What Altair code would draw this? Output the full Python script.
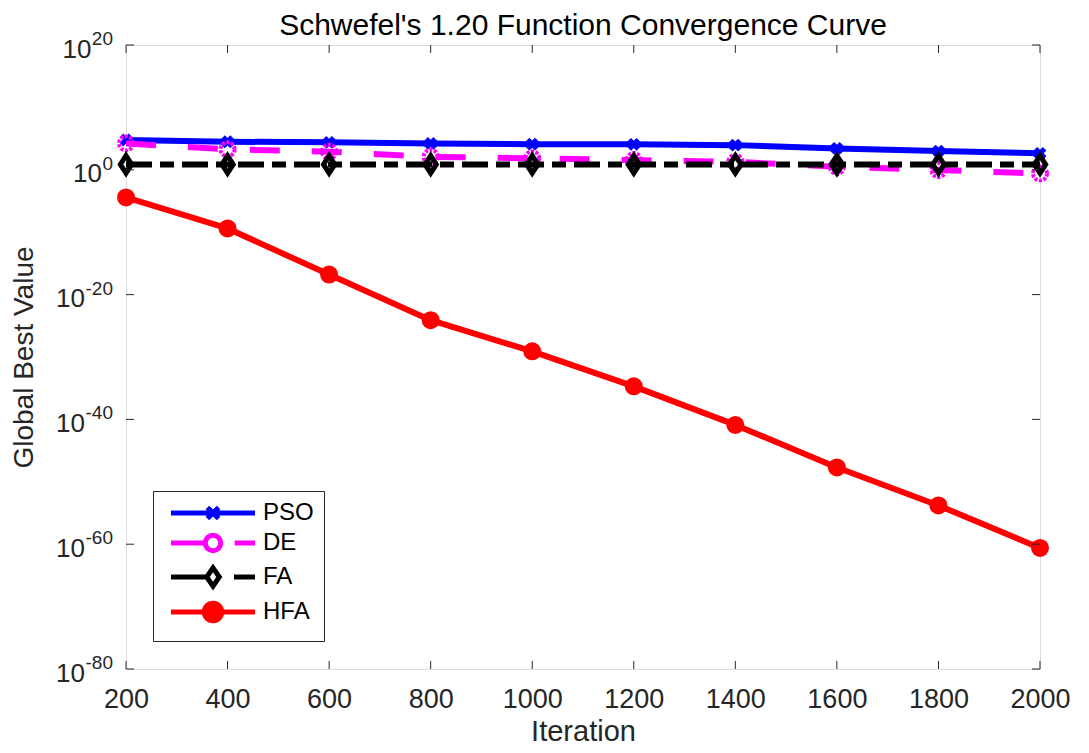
import altair as alt
import pandas as pd

# ---------------- data ----------------
iterations = [200, 400, 600, 800, 1000, 1200, 1400, 1600, 1800, 2000]
pso = [5.8e4, 3.2e4, 2.5e4, 1.7e4, 1.3e4, 1.2e4, 9.0e3, 2.7e3, 1.0e3, 4.3e2]
de = [1.7e4, 1.9e3, 8.0e2, 1.2e2, 68.0, 36.0, 19.0, 3.0, 0.9, 0.26]
fa = [7.4, 7.4, 7.4, 7.4, 7.4, 7.4, 7.4, 7.4, 7.4, 7.4]
hfa = [3.7e-5, 4e-10, 1.6e-17, 8e-25, 8e-30, 2e-35, 1.3e-41, 2e-48, 1.6e-54, 2.5e-61]

names = ["PSO", "DE", "FA", "HFA"]
series = [pso, de, fa, hfa]
colors = ["#0000FF", "#FF00FF", "#000000", "#FF0000"]

x_ticks = [200, 400, 600, 800, 1000, 1200, 1400, 1600, 1800, 2000]
y_ticks = [1e20, 1e0, 1e-20, 1e-40, 1e-60, 1e-80]
y_exp_labels = ["20", "0", "-20", "-40", "-60", "-80"]

# ---------------- styling ----------------
W, H = 914, 624
FONT = "Liberation Sans"
AX = "#262626"
EXP_SIZE = 19

dash_styles = [None, [30, 32], [26, 8, 14, 8], None]
marker_styles = [
    dict(shape="cross", angle=45, filled=True, size=170, strokeWidth=0),
    dict(shape="circle", filled=False, size=196, strokeWidth=4, strokeDash=[3, 1.5]),
    dict(shape="M0,-1.25L0.8,0L0,1.25L-0.8,0Z", filled=False, size=200, strokeWidth=5),
    dict(shape="circle", filled=True, size=324, strokeWidth=0),
]

legend_paths = [
    "M-6,0H6M-0.8,-0.8L0.8,0.8M-0.8,0.8L0.8,-0.8",
    "M-6,0H-1.1M3.1,0H6M1.1,0A1.1,1.1,0,1,1,-1.1,0A1.1,1.1,0,1,1,1.1,0Z",
    "M-6,0H-1M3.0,0H6M0,-1.3L0.9,0L0,1.3L-0.9,0Z",
    "M-6,0H6M1.25,0A1.25,1.25,0,1,1,-1.25,0A1.25,1.25,0,1,1,1.25,0Z",
]
legend_fills = ["#FFFFFF", "#FFFFFF", "#FFFFFF", "#FF0000"]

# "10" base labels from the axis; the padding leaves room for the exponent text
EXP_RIGHT = 13
exp_w = {1: 0.556 * EXP_SIZE, 2: 2 * 0.556 * EXP_SIZE, 3: (2 * 0.556 + 0.333) * EXP_SIZE}
pad_conditions = [
    {"test": "round(log(datum.value)/LN10) == 0", "value": EXP_RIGHT + exp_w[1] + 1},
    {"test": "round(log(datum.value)/LN10) > 0", "value": EXP_RIGHT + exp_w[2] + 1},
]
label_pad = {"condition": pad_conditions, "value": EXP_RIGHT + exp_w[3] + 1}

x_scale = alt.Scale(domain=[200, 2000], nice=False, zero=False)
y_scale = alt.Scale(type="log", domain=[1e-80, 1e20], nice=False)

x_axis = alt.Axis(values=x_ticks, format="d", ticks=False, domain=False, grid=False,
                  labelFlush=False, labelOverlap=False,
                  labelFontSize=27, labelPadding=17, labelColor=AX, labelFont=FONT,
                  title="Iteration", titleFontSize=29, titleFontWeight="normal",
                  titleColor=AX, titleFont=FONT, titlePadding=5)
y_axis = alt.Axis(values=y_ticks, labelExpr="'10'", ticks=False, domain=False, grid=False,
                  labelFlush=False, labelOverlap=False, labelBaseline="middle", labelOffset=4,
                  labelFontSize=26, labelPadding=label_pad, labelColor=AX, labelFont=FONT,
                  title="Global Best Value", titleFontSize=28, titleFontWeight="normal",
                  titleColor=AX, titleFont=FONT, titlePadding=17)


def X(field):
    return alt.X(field, type="quantitative", scale=x_scale, axis=x_axis)


def Y(field):
    return alt.Y(field, type="quantitative", scale=y_scale, axis=y_axis)


layers = []
for name, vals, col, dash, mk in zip(names, series, colors, dash_styles, marker_styles):
    df = pd.DataFrame({"iter": iterations, "val": vals})
    line_kw = dict(color=col, strokeWidth=6, strokeCap="butt", strokeJoin="round")
    if dash is not None:
        line_kw["strokeDash"] = dash
    line = alt.Chart(df).mark_line(**line_kw).encode(x=X("iter"), y=Y("val"))
    mk = dict(mk)
    if mk.get("filled"):
        mk["fill"] = col
        mk["stroke"] = col
    else:
        mk["stroke"] = col
    pts = alt.Chart(df).mark_point(opacity=1, **mk).encode(x=X("iter"), y=Y("val"))
    layers += [line, pts]

# inward ticks on all four sides of the box
yt = pd.DataFrame({"yt": y_ticks, "e": y_exp_labels})
xt = pd.DataFrame({"xt": x_ticks})
tick_kw = dict(color=AX, strokeWidth=1)
layers.append(alt.Chart(yt).mark_rule(**tick_kw).encode(y=Y("yt"), x=alt.value(0), x2=alt.value(8)))
layers.append(alt.Chart(yt).mark_rule(**tick_kw).encode(y=Y("yt"), x=alt.value(W - 8), x2=alt.value(W)))
layers.append(alt.Chart(xt).mark_rule(**tick_kw).encode(x=X("xt"), y=alt.value(0), y2=alt.value(8)))
layers.append(alt.Chart(xt).mark_rule(**tick_kw).encode(x=X("xt"), y=alt.value(H - 8), y2=alt.value(H)))

# superscript exponents of the y tick labels
layers.append(
    alt.Chart(yt).mark_text(align="right", baseline="middle", dy=-6, fontSize=EXP_SIZE,
                            font=FONT, color=AX)
    .encode(y=Y("yt"), x=alt.value(-EXP_RIGHT), text="e:N")
)

# legend (built by the library from the series names)
leg_df = pd.DataFrame({"alg": names})
legend = alt.Legend(title=None, orient="none", legendX=27, legendY=446,
                    labelFontSize=24, labelFont=FONT, labelColor="#000000",
                    symbolSize=196, symbolStrokeWidth=5, symbolOffset=38, labelOffset=38,
                    padding=10, rowPadding=-4, strokeColor=AX, fillColor="#FFFFFF",
                    symbolType="circle")
leg_layer = alt.Chart(leg_df).transform_filter("false").mark_point(
    size=196, strokeWidth=5, opacity=1, filled=False
).encode(
    stroke=alt.Stroke("alg:N", scale=alt.Scale(domain=names, range=colors), legend=legend),
    fill=alt.Fill("alg:N", scale=alt.Scale(domain=names, range=legend_fills), legend=legend),
    shape=alt.Shape("alg:N", scale=alt.Scale(domain=names, range=legend_paths), legend=legend),
)
layers.append(leg_layer)

chart = alt.layer(*layers).properties(
    width=W, height=H,
    autosize=alt.AutoSizeParams(type="none"),
    padding={"left": 118, "top": 37, "right": 40, "bottom": 76},
    title=alt.TitleParams("Schwefel's 1.20 Function Convergence Curve", fontSize=30,
                          fontWeight="normal", font=FONT, color="#000000", offset=6,
                          dy=17, frame="group"),
).configure_view(stroke=AX, strokeWidth=1.2).configure(background="#FFFFFF")

chart.save("out.html", embed_options={"renderer": "svg", "actions": False})
